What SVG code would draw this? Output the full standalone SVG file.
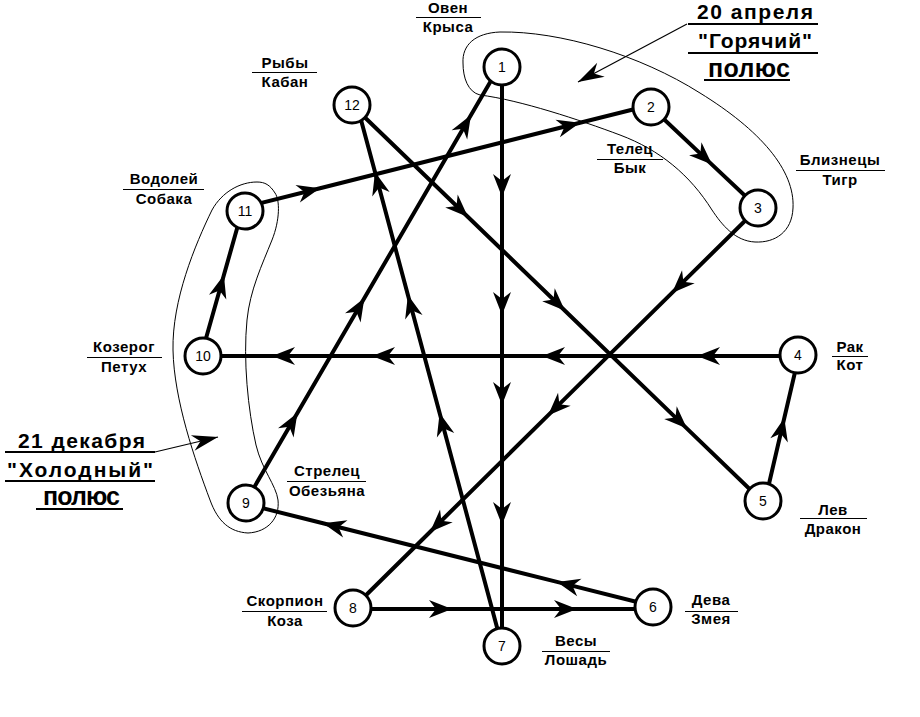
<svg xmlns="http://www.w3.org/2000/svg" width="920" height="717" viewBox="0 0 920 717">
<style>
.c{fill:none;stroke:#000;stroke-width:4;marker-mid:url(#a)}
.n circle{fill:#fff;stroke:#000;stroke-width:3}
.n text.num{font-family:"Liberation Sans",Arial,sans-serif;font-size:14px;text-anchor:middle}
.l{font-family:"Liberation Sans",Arial,sans-serif;font-size:15px;font-weight:bold;text-anchor:middle;letter-spacing:0.5px}
.ln{stroke:#000;stroke-width:1}
.big{font-family:"Liberation Sans",Arial,sans-serif;font-size:21px;font-weight:bold;text-anchor:middle}
.ul{stroke:#000;stroke-width:2}
.pole{fill:none;stroke:#000;stroke-width:1}
.pa{fill:none;stroke:#000;stroke-width:1.2;marker-end:url(#b)}
</style>
<defs>
<marker id="a" viewBox="-25 -10 27 20" markerWidth="27" markerHeight="20" refX="0" refY="0" orient="auto" markerUnits="userSpaceOnUse">
<path d="M0,0 L-23,-9 L-16,0 L-23,9 Z" fill="#000"/>
</marker>
<marker id="b" viewBox="-28 -10 30 20" markerWidth="30" markerHeight="20" refX="0" refY="0" orient="auto" markerUnits="userSpaceOnUse">
<path d="M0,0 L-26,-8 L-18,0 L-26,8 Z" fill="#000"/>
</marker>
</defs>
<rect width="920" height="717" fill="#fff"/>

<g id="poles">
<path class="pole" d="M463,63 C462,45 475,33 500,32 C560,31 640,55 700,93 C760,130 795,170 793,208 C792,232 775,243 755,242 C735,241 722,225 712,210 C690,175 660,150 620,135 C580,120 520,100 480,95 C468,92 463,78 463,63 Z"/>
<path class="pole" d="M257,182 C240,182 222,192 212,210 C195,245 172,300 173,350 C174,400 195,460 210,500 C218,522 230,532 248,533 C268,532 280,518 278,500 C276,485 262,470 256,445 C248,410 243,360 247,320 C250,290 262,265 272,240 C280,220 280,200 275,193 C270,185 265,182 257,182 Z"/>
</g>

<g id="connectors">
<path class="c" d="M502,67 L502,197 L502,315 L502,405 L502,525 L502,646"/>
<path class="c" d="M651,107 L712,164.6 L758,208"/>
<path class="c" d="M758,208 L672,292.9 L548,415.4 L430,532 L353,608"/>
<path class="c" d="M798,356 L697,356 L542,356 L372,356 L272,356 L203,356"/>
<path class="c" d="M765,501 L784.3,418 L799,355"/>
<path class="c" d="M352,105 L468,217 L565,310.7 L687,428.6 L762,501"/>
<path class="c" d="M502,646 L439.6,413 L407.9,295 L375,172 L357,105"/>
<path class="c" d="M245,503 L297.4,413 L364.4,298 L471,115 L499,67"/>
<path class="c" d="M201,356 L223.9,275 L242,211"/>
<path class="c" d="M245,207 L320,188.2 L580,122.8 L651,105"/>
<path class="c" d="M653,606 L557,581.9 L323,523.3 L246,504"/>
<path class="c" d="M353,609 L452,609 L577,609 L653,609"/>
<path class="pa" d="M687,24 L578,82"/>
<path class="pa" d="M155,452 L218,437"/>
</g>

<g id="n1" class="n"><circle cx="502" cy="67" r="18"/><text class="num" x="502" y="72">1</text>
<text class="l" x="448" y="13">Овен</text><line class="ln" x1="416" y1="17.5" x2="481" y2="17.5"/><text class="l" x="448" y="32">Крыса</text></g>
<g id="n2" class="n"><circle cx="651" cy="107" r="18"/><text class="num" x="651" y="112">2</text>
<text class="l" x="630" y="154">Телец</text><line class="ln" x1="597" y1="159.5" x2="663" y2="159.5"/><text class="l" x="630" y="173">Бык</text></g>
<g id="n3" class="n"><circle cx="758" cy="208" r="18"/><text class="num" x="758" y="213">3</text>
<text class="l" x="840" y="165">Близнецы</text><line class="ln" x1="796" y1="170.5" x2="885" y2="170.5"/><text class="l" x="840" y="185">Тигр</text></g>
<g id="n4" class="n"><circle cx="798" cy="355" r="18"/><text class="num" x="798" y="360">4</text>
<text class="l" x="850" y="352">Рак</text><line class="ln" x1="832" y1="356.5" x2="868" y2="356.5"/><text class="l" x="850" y="370">Кот</text></g>
<g id="n5" class="n"><circle cx="763" cy="501" r="18"/><text class="num" x="763" y="506">5</text>
<text class="l" x="833" y="515">Лев</text><line class="ln" x1="800" y1="518.5" x2="867" y2="518.5"/><text class="l" x="833" y="534">Дракон</text></g>
<g id="n6" class="n"><circle cx="653" cy="607" r="18"/><text class="num" x="653" y="612">6</text>
<text class="l" x="711" y="605">Дева</text><line class="ln" x1="685" y1="611.5" x2="738" y2="611.5"/><text class="l" x="711" y="624">Змея</text></g>
<g id="n7" class="n"><circle cx="502" cy="646" r="18"/><text class="num" x="502" y="651">7</text>
<text class="l" x="576" y="646">Весы</text><line class="ln" x1="542" y1="651.5" x2="610" y2="651.5"/><text class="l" x="576" y="665">Лошадь</text></g>
<g id="n8" class="n"><circle cx="353" cy="608" r="18"/><text class="num" x="353" y="613">8</text>
<text class="l" x="285" y="606">Скорпион</text><line class="ln" x1="242" y1="611.5" x2="327" y2="611.5"/><text class="l" x="285" y="626">Коза</text></g>
<g id="n9" class="n"><circle cx="246" cy="503" r="18"/><text class="num" x="246" y="508">9</text>
<text class="l" x="327" y="476">Стрелец</text><line class="ln" x1="287" y1="481.5" x2="366" y2="481.5"/><text class="l" x="327" y="496">Обезьяна</text></g>
<g id="n10" class="n"><circle cx="203" cy="356" r="18"/><text class="num" x="203" y="361">10</text>
<text class="l" x="124" y="352">Козерог</text><line class="ln" x1="87" y1="357.5" x2="162" y2="357.5"/><text class="l" x="124" y="372">Петух</text></g>
<g id="n11" class="n"><circle cx="245" cy="211" r="18"/><text class="num" x="245" y="216">11</text>
<text class="l" x="164" y="184">Водолей</text><line class="ln" x1="123" y1="189.5" x2="204" y2="189.5"/><text class="l" x="164" y="204">Собака</text></g>
<g id="n12" class="n"><circle cx="352" cy="105" r="18"/><text class="num" x="352" y="110">12</text>
<text class="l" x="285" y="68">Рыбы</text><line class="ln" x1="252" y1="72.5" x2="317" y2="72.5"/><text class="l" x="285" y="87">Кабан</text></g>

<g id="hot-pole-label">
<text class="big" x="755" y="19" textLength="116" lengthAdjust="spacing">20 апреля</text>
<line class="ul" x1="688" y1="24" x2="818" y2="24"/>
<text class="big" x="755" y="48" textLength="114" lengthAdjust="spacing">"Горячий"</text>
<line class="ul" x1="688" y1="53" x2="818" y2="53"/>
<text class="big" x="749" y="77" style="font-size:25px" textLength="82" lengthAdjust="spacing">полюс</text>
<line class="ul" x1="704" y1="80" x2="790" y2="80"/>
</g>
<g id="cold-pole-label">
<text class="big" x="81.5" y="448" textLength="127" lengthAdjust="spacing">21 декабря</text>
<line class="ul" x1="5" y1="452" x2="155" y2="452"/>
<text class="big" x="80" y="477" textLength="146" lengthAdjust="spacing">"Холодный"</text>
<line class="ul" x1="5" y1="481" x2="155" y2="481"/>
<text class="big" x="81.5" y="505" style="font-size:25px" textLength="77" lengthAdjust="spacing">полюс</text>
<line class="ul" x1="36" y1="509" x2="123" y2="509"/>
</g>
</svg>
